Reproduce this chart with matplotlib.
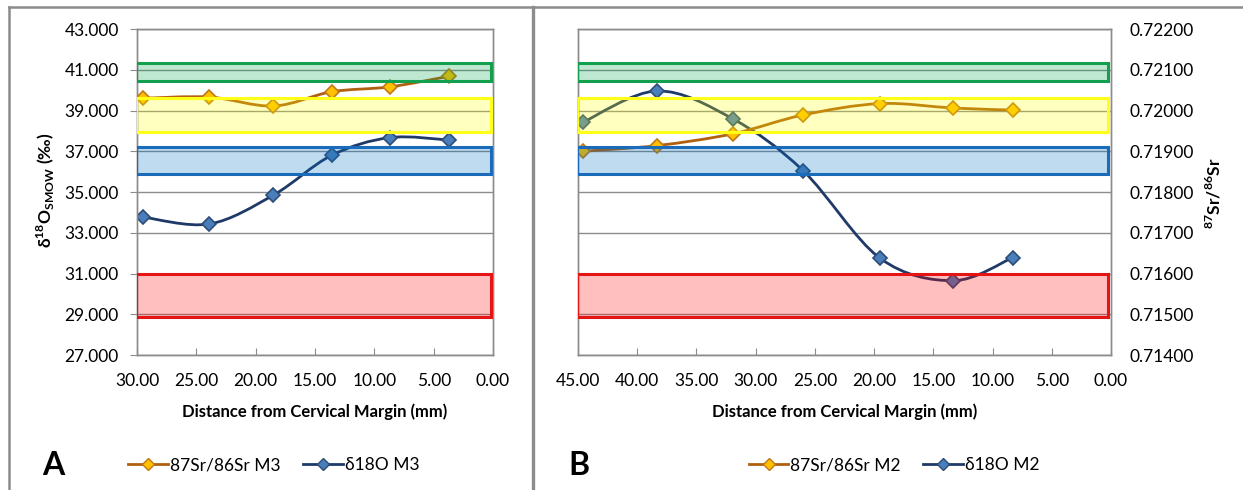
import numpy as np
import matplotlib
matplotlib.use("Agg")
import matplotlib.pyplot as plt
from matplotlib.path import Path
from matplotlib.patches import PathPatch, Rectangle
from matplotlib.lines import Line2D
from matplotlib.ticker import FormatStrFormatter, MultipleLocator
import matplotlib.transforms as mtransforms

plt.rcParams['font.family'] = ['Lato', 'DejaVu Sans']
plt.rcParams['mathtext.fontset'] = 'custom'
plt.rcParams['mathtext.rm'] = 'Lato'
plt.rcParams['mathtext.bf'] = 'Lato:bold'

# panel A (M3)
dist_m3 = [29.5, 23.9, 18.5, 13.6, 8.7, 3.7]
d18o_m3 = [33.77, 33.43, 34.85, 36.80, 37.67, 37.55]
sr_m3 = [0.72030, 0.72033, 0.72011, 0.72046, 0.72058, 0.72084]

# panel B (M2)
dist_m2 = [44.6, 38.3, 31.9, 26.0, 19.5, 13.3, 8.3]
d18o_m2 = [38.42, 39.96, 38.58, 36.05, 31.75, 30.65, 31.78]
sr_m2 = [0.71900, 0.71914, 0.71943, 0.71989, 0.72017, 0.72006, 0.72001]

d18o_ticks = [27, 29, 31, 33, 35, 37, 39, 41, 43]

# reference bands, in d18O units (low, high)
band_lows = [40.45, 37.93, 35.88, 28.85]
band_highs = [41.33, 39.60, 37.22, 31.00]
band_edges = ['#12a04e', '#ffff1a', '#1a6cbb', '#e51515']
band_fills = ['#00a650', '#ffff00', '#0070c0', '#ff0000']

SR_COL = '#b0600f'
SR_FACE = '#ffc000'
SR_EDGE = '#c07818'
O_COL = '#1f3a68'
O_FACE = '#4a7ebb'
O_EDGE = '#2c4d78'
GRID = '#8c8c8c'
FS = 12.5

W, H = 1243, 490
fig = plt.figure(figsize=(W / 100, H / 100), dpi=100)


def smooth_line(ax, xs, ys, color):
    # excel style smoothed line: cubic bezier through the points
    pts = np.column_stack([xs, ys]).astype(float)
    n = len(pts)
    verts = [pts[0]]
    codes = [Path.MOVETO]
    for i in range(n - 1):
        p0 = pts[i - 1] if i > 0 else pts[i]
        p1, p2 = pts[i], pts[i + 1]
        p3 = pts[i + 2] if i + 2 < n else pts[i + 1]
        verts += [p1 + (p2 - p0) / 6, p2 - (p3 - p1) / 6, p2]
        codes += [Path.CURVE4] * 3
    ax.add_patch(PathPatch(Path(verts, codes), fill=False, edgecolor=color,
                           lw=2.0, zorder=3, capstyle='round'))


def make_panel(rect, xmax, dist, d18o, sr, left_labels, right_labels):
    ax = fig.add_axes(rect)
    ax2 = ax.twinx()
    ax.set_xlim(xmax, 0)
    ax.set_ylim(27, 43)
    ax2.set_ylim(0.714, 0.722)
    ax.xaxis.set_major_locator(MultipleLocator(5))
    ax.set_yticks(d18o_ticks)
    ax2.yaxis.set_major_locator(MultipleLocator(0.001))
    ax.xaxis.set_major_formatter(FormatStrFormatter('%.2f'))
    ax.yaxis.set_major_formatter(FormatStrFormatter('%.3f'))
    ax2.yaxis.set_major_formatter(FormatStrFormatter('%.5f'))
    ax.grid(axis='y', color=GRID, lw=1.0)
    ax.set_axisbelow(True)
    for a in (ax, ax2):
        for s in a.spines.values():
            s.set_color(GRID)
            s.set_linewidth(1.0)
    ax.tick_params(axis='x', direction='in', length=5, color=GRID, labelsize=FS, pad=13,
                   top=False)
    if left_labels:
        ax.tick_params(axis='y', direction='out', length=5, color=GRID, labelsize=FS, pad=8)
    else:
        ax.tick_params(axis='y', length=0, labelleft=False)
    if right_labels:
        ax2.tick_params(axis='y', length=0, labelsize=FS, pad=13)
    else:
        ax2.tick_params(axis='y', length=0, labelright=False)
    ax.set_xlabel('Distance from Cervical Margin (mm)', fontsize=12, fontweight='bold',
                  labelpad=10)

    smooth_line(ax, dist, d18o, O_COL)
    ax.plot(dist, d18o, ls='none', marker='D', ms=7.5, mfc=O_FACE, mec=O_EDGE, mew=1.2, zorder=4)
    smooth_line(ax2, dist, sr, SR_COL)
    ax2.plot(dist, sr, ls='none', marker='D', ms=7.5, mfc=SR_FACE, mec=SR_EDGE, mew=1.2, zorder=4)

    trans = mtransforms.blended_transform_factory(ax2.transAxes, ax.transData)
    for lo, hi, ec, fc in zip(band_lows, band_highs, band_edges, band_fills):
        ax2.add_patch(Rectangle((-0.002, lo), 0.996, hi - lo, transform=trans,
                                facecolor=fc, alpha=0.25, edgecolor='none', zorder=5))
        ax2.add_patch(Rectangle((-0.002, lo), 0.996, hi - lo, transform=trans,
                                facecolor='none', edgecolor=ec, lw=2.2, zorder=6))
    return ax, ax2


axA, axA2 = make_panel([137 / W, 1 - 355 / H, 356 / W, 326 / H], 30,
                       dist_m3, d18o_m3, sr_m3, True, False)
axB, axB2 = make_panel([578 / W, 1 - 355 / H, 533 / W, 326 / H], 45,
                       dist_m2, d18o_m2, sr_m2, False, True)

fig.text(46 / W, 1 - 190 / H, r'δ$^{\mathbf{18}}$O$_{\mathbf{SMOW}}$ (‰)', rotation=90,
         ha='center', va='center', fontsize=FS, fontweight='bold')
fig.text(1214 / W, 1 - 193 / H, r'$^{\mathbf{87}}$Sr/$^{\mathbf{86}}$Sr', rotation=90,
         ha='center', va='center', fontsize=FS, fontweight='bold')


def legend_at(xc, tag):
    handles = [Line2D([], [], color=SR_COL, lw=2, marker='D', ms=6, mfc=SR_FACE, mec=SR_EDGE),
               Line2D([], [], color=O_COL, lw=2, marker='D', ms=6, mfc=O_FACE, mec=O_EDGE)]
    labels = ['87Sr/86Sr ' + tag, 'δ18O ' + tag]
    fig.legend(handles, labels, loc='center', bbox_to_anchor=(xc / W, 1 - 465 / H),
               ncol=2, frameon=False, fontsize=FS, handlelength=2.3, handletextpad=0.1,
               columnspacing=1.3)


legend_at(274, 'M3')
legend_at(894, 'M2')

fig.text(53 / W, 1 - 465 / H, 'A', ha='center', va='center', fontsize=23, fontweight='bold')
fig.text(579 / W, 1 - 465 / H, 'B', ha='center', va='center', fontsize=23, fontweight='bold')

# outer frame and divider
fcol = '#8c8c8c'
fig.add_artist(Line2D([9 / W, 1], [1 - 7 / H, 1 - 7 / H], color=fcol, lw=1.8))
fig.add_artist(Line2D([9 / W, 9 / W], [0, 1 - 7 / H], color=fcol, lw=1.8))
fig.add_artist(Line2D([533 / W, 533 / W], [0, 1 - 7 / H], color=fcol, lw=2.4))

fig.savefig('out.png', dpi=100)
